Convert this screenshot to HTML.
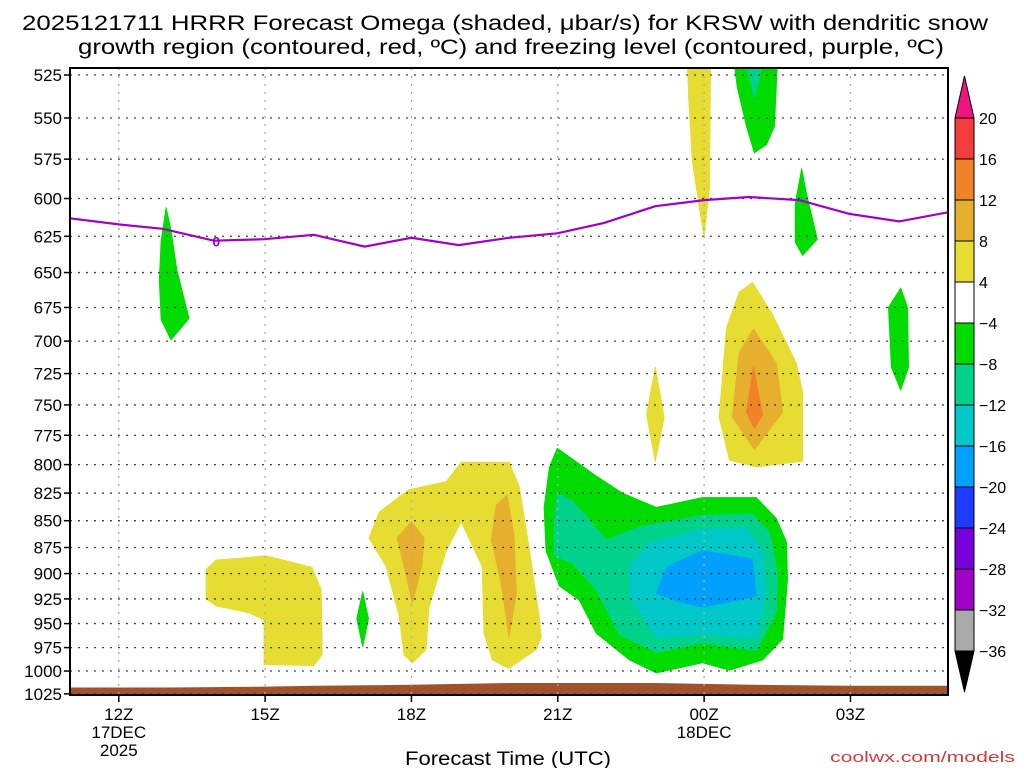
<!DOCTYPE html>
<html><head><meta charset="utf-8"><style>
html,body{margin:0;padding:0;background:#fff;}
svg{display:block;font-family:"Liberation Sans","DejaVu Sans",sans-serif;}
</style></head><body>
<svg id="chart" width="1024" height="768" viewBox="0 0 1024 768" xmlns="http://www.w3.org/2000/svg">
<text x="22" y="30" font-size="21" textLength="966" lengthAdjust="spacingAndGlyphs">2025121711 HRRR Forecast Omega (shaded, μbar/s) for KRSW with dendritic snow</text>
<text x="78" y="54" font-size="21" textLength="866" lengthAdjust="spacingAndGlyphs">growth region (contoured, red, ºC) and freezing level (contoured, purple, ºC)</text>
<g id="shades"></g>
<g id="grid"></g>
<g id="lines"></g>
<g id="axes"></g>
<g id="cbar"></g>
<text x="508" y="765" font-size="19" text-anchor="middle" textLength="206" lengthAdjust="spacingAndGlyphs">Forecast Time (UTC)</text>
<text x="1015" y="762" font-size="15" fill="#d83838" text-anchor="end" textLength="185" lengthAdjust="spacingAndGlyphs">coolwx.com/models</text>
</svg>
<script>
// ---- data ----
const pressureLevels = [525,550,575,600,625,650,675,700,725,750,775,800,825,850,875,900,925,950,975,1000,1025];
const timeTickHours = [12,15,18,21,24,27];
const timeTickLabels = ["12Z","15Z","18Z","21Z","00Z","03Z"];
const cbarLevels = [20,16,12,8,4,-4,-8,-12,-16,-20,-24,-28,-32,-36];
const cbarColors = ["#f53c3c","#f08228","#e6af2d","#e6dc32","#ffffff","#00dc00","#00d28c","#00c8c8","#00a0ff","#1e3cff","#7800dc","#a000c8","#aaaaaa"];
const freezeHours = [11,12,12.9,13.95,14.98,16,17.04,18,18.97,20,20.99,21.95,23,24,24.92,25.95,26.97,28,29];
const freezePressure = [613,617,620,628,627,624,632,626,631,626,623,616,605,601,599,601,610,615,609];
const groundHours = [11,13,15,16,18,20,21,23,24,25,27,29];
const groundPressure = [1018,1018,1017,1016,1015,1013,1013,1013,1014,1015,1016,1016];
// omega areas: [hour, pressure] vertices, with color class
const greenLeft = [[12.97,606],[13.07,621],[13.19,648],[13.44,683],[13.07,699],[12.87,684],[12.83,655],[12.87,628]];
const yellowBox = [[13.79,896],[14.0,887],[15.02,883],[15.96,894],[16.15,916],[16.17,982],[16.0,994],[14.98,993],[14.98,946],[14.67,939],[14.0,932],[13.79,925]];
const greenSmall = [[17,918],[17.12,945],[17,974],[16.88,945]];
const yellowN = [[17.13,866],[17.34,842],[17.95,822],[18.71,815],[19.02,798],[20.0,798],[20.21,819],[20.42,878],[20.62,943],[20.66,964],[20.56,977],[20.0,997],[19.66,988],[19.49,960],[19.45,893],[19.02,851],[18.71,878],[18.36,933],[18.3,977],[18.02,991],[17.85,983],[17.75,943],[17.48,893]];
const orangeN1 = [[18.0,851],[18.26,866],[18.21,893],[18.02,929],[17.85,893],[17.71,866]];
const orangeN2 = [[19.96,827],[20.1,863],[20.15,919],[20.0,964],[19.84,909],[19.64,868],[19.74,836]];
const greenBig = [[20.99,786],[21.79,810],[22.32,825],[23.02,838],[23.96,829],[25.07,829],[25.48,848],[25.69,870],[25.71,906],[25.61,966],[25.2,988],[24.52,999],[23.96,991],[23.02,1002],[22.47,988],[21.79,960],[21.44,926],[21.03,912],[20.76,878],[20.72,838],[20.83,802]];
const tealBig = [[20.99,825],[21.3,832],[22.0,868],[22.67,856],[23.96,845],[24.99,844],[25.34,861],[25.5,899],[25.48,938],[25.07,978],[23.96,970],[23.02,980],[22.26,961],[21.79,916],[21.3,890],[20.93,883],[20.93,852]];
const cyanBig = [[22.47,893],[22.88,871],[23.96,858],[24.87,857],[25.2,878],[25.28,919],[25.07,965],[23.96,961],[23.02,965],[22.47,922]];
const blueBig = [[23.02,919],[23.25,893],[23.96,878],[24.99,886],[25.07,922],[24.52,928],[23.96,933],[23.49,928]];
const yellowSpike = [[23.66,519],[24.13,519],[24.11,593],[24.05,610],[24.0,625],[23.94,614],[23.76,576],[23.68,536]];
const greenTop = [[24.62,519],[25.5,519],[25.44,555],[25.28,566],[25.03,571],[24.87,555],[24.68,532]];
const tealTop = [[24.87,519],[25.2,519],[25.03,538]];
const green02 = [[26.0,581],[26.1,597],[26.32,627],[26.02,638],[25.87,629],[25.87,603]];
const greenRight = [[28.03,661],[28.17,675],[28.19,720],[28.03,738],[27.84,720],[27.78,675]];
const yellowRight = [[24.99,657],[25.4,680],[25.89,717],[26.02,740],[26.02,797],[25.07,802],[24.52,796],[24.31,760],[24.46,690],[24.72,664]];
const orangeRight = [[25.01,691],[25.48,717],[25.61,756],[25.03,787],[24.58,760],[24.72,709]];
const redRight = [[25.01,720],[25.2,758],[25.03,769],[24.87,756]];
const yellowSmall = [[23.0,720],[23.18,760],[23.0,797],[22.82,758]];

// ---- scales ----
const X0=70, X1=948, Y0=68, Y1=695;
const H0=11, H1=29;
function xs(h){return X0+(h-H0)/(H1-H0)*(X1-X0);}
function ys(p){return 75+Math.log(p/525)*925;}
const NS="http://www.w3.org/2000/svg";
function mk(tag,parent,attrs){const e=document.createElementNS(NS,tag);for(const k in attrs)e.setAttribute(k,attrs[k]);parent.appendChild(e);return e;}
const svg=document.getElementById('chart');
const shades=document.getElementById('shades'), grid=document.getElementById('grid'), lines=document.getElementById('lines'), axes=document.getElementById('axes'), cbar=document.getElementById('cbar');

// clip
const defs=mk('defs',svg,{});
const cp=mk('clipPath',defs,{id:'plotclip'});
mk('rect',cp,{x:X0,y:Y0,width:X1-X0,height:Y1-Y0});
shades.setAttribute('clip-path','url(#plotclip)');
lines.setAttribute('clip-path','url(#plotclip)');

function poly(arr,color,name){
  const pts=arr.map(d=>xs(d[0]).toFixed(1)+','+ys(d[1]).toFixed(1)).join(' ');
  const e=mk('polygon',shades,{points:pts,fill:color,stroke:color,'stroke-width':1,'stroke-linejoin':'round'});
  
  
}
const Y='#e6dc32',O='#e6af2d',R='#f08228',G='#00dc00',T='#00d28c',C='#00c8c8',B='#00a0ff';
poly(greenLeft,G,'omega-area-green-left');
poly(yellowBox,Y,'omega-area-yellow-15z');
poly(greenSmall,G,'omega-area-green-17z');
poly(yellowN,Y,'omega-area-yellow-18z');
poly(orangeN1,O,'omega-area-orange-18z');
poly(orangeN2,O,'omega-area-orange-20z');
poly(greenBig,G,'omega-area-green-22z');
poly(tealBig,T,'omega-area-teal-22z');
poly(cyanBig,C,'omega-area-cyan-23z');
poly(blueBig,B,'omega-area-blue-00z');
poly(yellowSpike,Y,'omega-area-yellow-spike');
poly(greenTop,G,'omega-area-green-top');
poly(tealTop,T,'omega-area-teal-top');
poly(green02,G,'omega-area-green-02z');
poly(greenRight,G,'omega-area-green-04z');
poly(yellowRight,Y,'omega-area-yellow-01z');
poly(orangeRight,O,'omega-area-orange-01z');
poly(redRight,R,'omega-area-red-01z');
poly(yellowSmall,Y,'omega-area-yellow-23z');

// ground
{
  let d='M'+xs(groundHours[0])+','+Y1;
  groundHours.forEach((h,i)=>{d+=' L'+xs(h).toFixed(1)+','+ys(groundPressure[i]).toFixed(1);});
  d+=' L'+xs(groundHours[groundHours.length-1])+','+Y1+' Z';
  const g=mk('path',shades,{d:d,fill:'#a0522d'});
  
  
}

// grid
pressureLevels.forEach(p=>{
  const y=ys(p);
  const l=mk('line',grid,{x1:X0,x2:X1,y1:y,y2:y,stroke:'#444','stroke-width':1.3,'stroke-dasharray':'2,6'});
  
  
});
timeTickHours.forEach(h=>{
  const x=xs(h);
  const l=mk('line',grid,{x1:x,x2:x,y1:Y0,y2:Y1,stroke:'#aaa','stroke-width':1.3,'stroke-dasharray':'2,6'});
  
  
});

// freezing line
{
  const pts=freezeHours.map((h,i)=>xs(h).toFixed(1)+','+ys(freezePressure[i]).toFixed(1)).join(' ');
  const l=mk('polyline',lines,{points:pts,fill:'none',stroke:'#a000c8','stroke-width':2.2});
  
  
  const t=mk('text',lines,{x:xs(14),y:ys(628)+6,'font-size':14,'font-weight':'bold',fill:'#a000c8','text-anchor':'middle'});
  t.textContent='0';
  
  
}

// axes frame
mk('rect',axes,{x:X0,y:Y0,width:X1-X0,height:Y1-Y0,fill:'none',stroke:'#000','stroke-width':2});
pressureLevels.forEach(p=>{
  const y=ys(p);
  mk('line',axes,{x1:X0-6,x2:X0,y1:y,y2:y,stroke:'#000','stroke-width':1.5});
  const t=mk('text',axes,{x:62,y:y+6,'font-size':17,'text-anchor':'end'});
  t.textContent=p;
  
  
});
timeTickHours.forEach((h,i)=>{
  const x=xs(h);
  mk('line',axes,{x1:x,x2:x,y1:Y1,y2:Y1+7,stroke:'#000','stroke-width':1.5});
  const t=mk('text',axes,{x:x,y:720,'font-size':17,'text-anchor':'middle'});
  t.textContent=timeTickLabels[i];
  
  
});
[["17DEC",12,738],["2025",12,756],["18DEC",24,738]].forEach(a=>{
  const t=mk('text',axes,{x:xs(a[1]),y:a[2],'font-size':17,'text-anchor':'middle'});
  t.textContent=a[0];
  
  
});

// colorbar
{
  const cx0=955, cw=19, top=118, step=41;
  mk('polygon',cbar,{points:`${cx0},${top} ${cx0+cw},${top} ${cx0+cw/2},76`,fill:'#f0147f',stroke:'#000','stroke-width':1});
  cbarColors.forEach((c,i)=>{
    const r=mk('rect',cbar,{x:cx0,y:top+i*step,width:cw,height:step,fill:c,stroke:'#000','stroke-width':1});
    
    
  });
  const bot=top+cbarColors.length*step;
  mk('polygon',cbar,{points:`${cx0},${bot} ${cx0+cw},${bot} ${cx0+cw/2},692`,fill:'#000',stroke:'#000','stroke-width':1});
  cbarLevels.forEach((v,i)=>{
    const t=mk('text',cbar,{x:979,y:top+i*step+6,'font-size':16});
    t.textContent=(v<0?'\u2212':'')+Math.abs(v);
    
    
  });
}
</script>
</body></html>
